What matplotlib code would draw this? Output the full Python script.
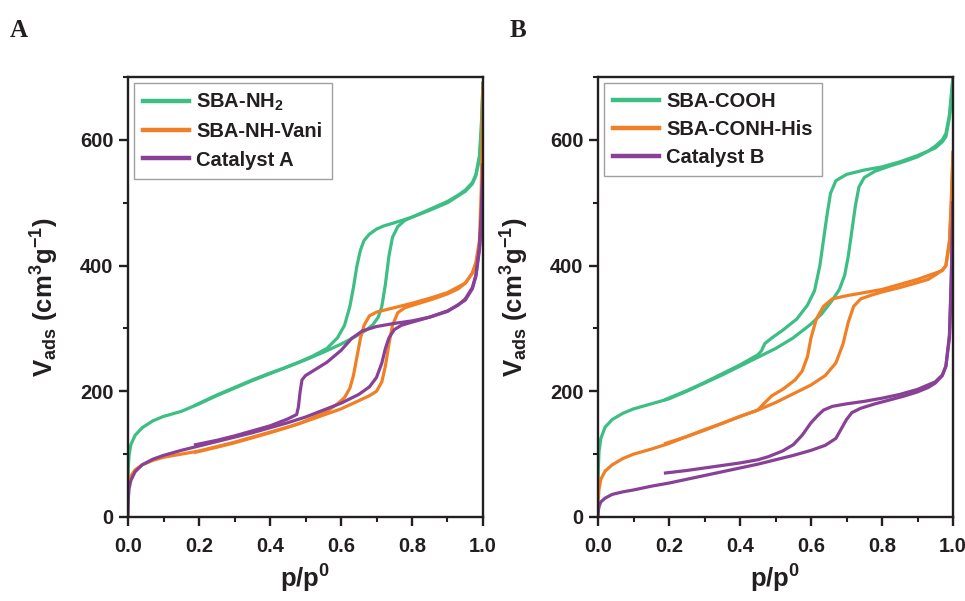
import matplotlib

matplotlib.use("Agg")
import matplotlib.pyplot as plt
from matplotlib.ticker import MultipleLocator, FormatStrFormatter

plt.rcParams["font.family"] = ["Liberation Sans", "DejaVu Sans"]
plt.rcParams["font.weight"] = "bold"
plt.rcParams["mathtext.fontset"] = "custom"
plt.rcParams["mathtext.rm"] = "Liberation Sans:bold"
plt.rcParams["mathtext.it"] = "Liberation Sans:bold"
plt.rcParams["mathtext.bf"] = "Liberation Sans:bold"
plt.rcParams["mathtext.default"] = "rm"

GREEN = "#3dbe84"
ORANGE = "#f07f26"
PURPLE = "#884197"
INK = "#231f20"

# ---- panel A ----
nh2_ads_p = [0, 0.001, 0.003, 0.008, 0.02, 0.04, 0.07, 0.1, 0.15, 0.2, 0.25, 0.3, 0.35, 0.4,
             0.45, 0.5, 0.55, 0.6, 0.64, 0.67, 0.69, 0.705, 0.715, 0.725, 0.735, 0.745, 0.76,
             0.78, 0.82, 0.86, 0.9, 0.93, 0.95, 0.97, 0.98, 0.99, 0.995, 1.0]
nh2_ads_v = [60, 80, 98, 115, 130, 142, 153, 160, 168, 180, 193, 205, 217, 228,
             239, 250, 262, 275, 287, 297, 306, 318, 335, 370, 415, 445, 462,
             472, 482, 492, 502, 512, 520, 532, 545, 575, 620, 690]
nh2_des_p = [1.0, 0.995, 0.99, 0.98, 0.97, 0.95, 0.9, 0.85, 0.8, 0.75, 0.72, 0.7, 0.68, 0.665,
             0.655, 0.645, 0.635, 0.625, 0.61, 0.59, 0.56, 0.52, 0.48, 0.44, 0.4, 0.35, 0.3,
             0.25, 0.19]
nh2_des_v = [690, 610, 570, 543, 530, 518, 500, 488, 477, 468, 463, 458, 450, 440,
             425, 400, 365, 335, 305, 285, 268, 256, 246, 237, 229, 218, 206,
             194, 178]

vani_ads_p = [0, 0.001, 0.003, 0.008, 0.02, 0.04, 0.07, 0.1, 0.15, 0.2, 0.25, 0.3, 0.35, 0.4,
              0.45, 0.5, 0.55, 0.6, 0.65, 0.68, 0.7, 0.715, 0.725, 0.735, 0.745, 0.76, 0.78,
              0.82, 0.86, 0.9, 0.93, 0.95, 0.97, 0.98, 0.99, 0.995, 1.0]
vani_ads_v = [30, 45, 55, 65, 75, 83, 90, 95, 100, 105, 112, 119, 127, 135,
              143, 152, 162, 172, 185, 193, 200, 215, 240, 275, 305, 325, 333,
              340, 347, 355, 363, 372, 388, 405, 440, 520, 690]
vani_des_p = [1.0, 0.995, 0.99, 0.98, 0.97, 0.95, 0.9, 0.85, 0.8, 0.75, 0.7, 0.68, 0.665, 0.655,
              0.645, 0.635, 0.625, 0.61, 0.59, 0.56, 0.52, 0.48, 0.44, 0.4, 0.35, 0.3, 0.25, 0.19]
vani_des_v = [550, 470, 430, 403, 388, 372, 357, 348, 340, 333, 326, 320, 305, 285,
              255, 225, 205, 190, 180, 168, 158, 148, 141, 134, 126, 118, 111, 103]

catA_ads_p = [0, 0.001, 0.003, 0.008, 0.02, 0.04, 0.07, 0.1, 0.15, 0.2, 0.25, 0.3, 0.35, 0.4,
              0.45, 0.5, 0.55, 0.6, 0.65, 0.68, 0.7, 0.715, 0.725, 0.735, 0.75, 0.77, 0.8,
              0.85, 0.9, 0.93, 0.95, 0.97, 0.98, 0.99, 0.995, 1.0]
catA_ads_v = [0, 30, 45, 58, 72, 83, 92, 98, 106, 113, 120, 127, 134, 142,
              150, 159, 170, 181, 195, 207, 222, 245, 268, 285, 298, 305, 310,
              318, 328, 337, 347, 365, 385, 430, 480, 560]
catA_des_p = [1.0, 0.995, 0.99, 0.98, 0.97, 0.95, 0.9, 0.85, 0.8, 0.75, 0.7, 0.66, 0.63, 0.6,
              0.56, 0.52, 0.5, 0.49, 0.485, 0.48, 0.475, 0.45, 0.4, 0.35, 0.3, 0.25, 0.19]
catA_des_v = [560, 470, 425, 383, 363, 345, 327, 318, 312, 308, 303, 296, 284, 265,
              246, 232, 225, 218, 200, 175, 163, 156, 145, 137, 129, 122, 115]

# ---- panel B ----
cooh_ads_p = [0, 0.001, 0.003, 0.008, 0.02, 0.04, 0.07, 0.1, 0.15, 0.2, 0.25, 0.3, 0.35, 0.4,
              0.45, 0.5, 0.55, 0.6, 0.63, 0.66, 0.68, 0.695, 0.705, 0.715, 0.725, 0.735, 0.75,
              0.78, 0.82, 0.86, 0.9, 0.93, 0.95, 0.97, 0.98, 0.99, 0.995, 1.0]
cooh_ads_v = [40, 80, 105, 125, 143, 155, 165, 172, 180, 188, 200, 213, 226, 240,
              254, 268, 285, 307, 323, 345, 362, 385, 415, 455, 495, 525, 540,
              550, 558, 565, 573, 582, 590, 600, 610, 640, 670, 700]
cooh_des_p = [1.0, 0.995, 0.99, 0.98, 0.97, 0.95, 0.9, 0.85, 0.8, 0.75, 0.7, 0.67, 0.655, 0.645,
              0.635, 0.625, 0.61, 0.59, 0.56, 0.52, 0.49, 0.47, 0.46, 0.45, 0.4, 0.35, 0.3,
              0.25, 0.19]
cooh_des_v = [700, 665, 635, 605, 597, 587, 575, 565, 557, 552, 545, 535, 515, 480,
              440, 400, 360, 337, 315, 297, 285, 276, 264, 258, 242, 228, 214,
              201, 187]

his_ads_p = [0, 0.001, 0.003, 0.008, 0.02, 0.04, 0.07, 0.1, 0.15, 0.2, 0.25, 0.3, 0.35, 0.4,
             0.45, 0.5, 0.55, 0.6, 0.64, 0.67, 0.69, 0.705, 0.72, 0.74, 0.77, 0.8, 0.85,
             0.9, 0.93, 0.95, 0.97, 0.98, 0.99, 0.995, 1.0]
his_ads_v = [10, 30, 45, 60, 73, 83, 93, 100, 108, 117, 128, 138, 149, 160,
             170, 182, 196, 210, 225, 245, 275, 310, 335, 347, 353, 358, 365,
             373, 378, 385, 393, 400, 440, 500, 580]
his_des_p = [1.0, 0.995, 0.99, 0.98, 0.97, 0.95, 0.9, 0.85, 0.8, 0.75, 0.7, 0.66, 0.635, 0.615,
             0.6, 0.59, 0.575, 0.555, 0.52, 0.49, 0.47, 0.45, 0.4, 0.35, 0.3, 0.25, 0.19]
his_des_v = [580, 495, 435, 400, 392, 388, 378, 370, 362, 357, 352, 347, 335, 315,
             285, 255, 232, 218, 203, 193, 182, 170, 160, 149, 139, 128, 117]

catB_ads_p = [0, 0.001, 0.003, 0.008, 0.02, 0.04, 0.07, 0.1, 0.15, 0.2, 0.25, 0.3, 0.35, 0.4,
              0.45, 0.5, 0.55, 0.6, 0.64, 0.67, 0.685, 0.7, 0.715, 0.74, 0.78, 0.82, 0.86,
              0.9, 0.93, 0.95, 0.97, 0.98, 0.99, 0.995, 1.0]
catB_ads_v = [0, 10, 17, 24, 30, 36, 40, 43, 49, 54, 60, 66, 72, 78,
              84, 91, 98, 106, 114, 125, 140, 155, 166, 173, 180, 186, 192,
              199, 206, 213, 225, 240, 290, 380, 500]
catB_des_p = [1.0, 0.995, 0.99, 0.98, 0.97, 0.95, 0.9, 0.85, 0.8, 0.75, 0.7, 0.66, 0.635, 0.62,
              0.6, 0.575, 0.55, 0.52, 0.48, 0.45, 0.4, 0.35, 0.3, 0.25, 0.19]
catB_des_v = [500, 370, 285, 240, 226, 215, 203, 195, 189, 184, 180, 176, 170, 162,
              150, 130, 115, 105, 96, 91, 86, 82, 78, 74, 70]

panel_a = [
    ("SBA-NH$_2$", GREEN, nh2_ads_p, nh2_ads_v, nh2_des_p, nh2_des_v),
    ("SBA-NH-Vani", ORANGE, vani_ads_p, vani_ads_v, vani_des_p, vani_des_v),
    ("Catalyst A", PURPLE, catA_ads_p, catA_ads_v, catA_des_p, catA_des_v),
]
panel_b = [
    ("SBA-COOH", GREEN, cooh_ads_p, cooh_ads_v, cooh_des_p, cooh_des_v),
    ("SBA-CONH-His", ORANGE, his_ads_p, his_ads_v, his_des_p, his_des_v),
    ("Catalyst B", PURPLE, catB_ads_p, catB_ads_v, catB_des_p, catB_des_v),
]

fig = plt.figure(figsize=(9.65, 6.01), dpi=100)
ax_a = fig.add_axes([128 / 965, 1 - 517 / 601, 355 / 965, 440 / 601])
ax_b = fig.add_axes([598 / 965, 1 - 517 / 601, 355 / 965, 440 / 601])

for ax, series, letter, lx in [(ax_a, panel_a, "A", 0.010), (ax_b, panel_b, "B", 0.528)]:
    for name, col, ap, av, dp, dv in series:
        ax.plot(ap, av, color=col, lw=2.3, label=name)
        ax.plot(dp, dv, color=col, lw=2.3)
    ax.set_xlim(0, 1.0)
    ax.set_ylim(0, 700)
    ax.xaxis.set_major_locator(MultipleLocator(0.2))
    ax.xaxis.set_minor_locator(MultipleLocator(0.1))
    ax.yaxis.set_major_locator(MultipleLocator(200))
    ax.yaxis.set_minor_locator(MultipleLocator(100))
    ax.xaxis.set_major_formatter(FormatStrFormatter("%.1f"))
    for s in ax.spines.values():
        s.set_linewidth(1.7)
        s.set_color(INK)
    ax.tick_params(which="major", length=6.5, width=1.7, labelsize=14.5, color=INK,
                   labelcolor=INK)
    ax.tick_params(axis="x", which="major", pad=8)
    ax.tick_params(axis="y", which="major", pad=4)
    ax.tick_params(which="minor", length=3.5, width=1.5, color=INK)
    ax.set_xlabel("p/p$^0$", fontsize=18.5, fontweight="bold", color=INK)
    ax.set_ylabel("V$_{ads}$ (cm$^3$g$^{-1}$)", fontsize=18.5, fontweight="bold", color=INK)
    ax.xaxis.set_label_coords(0.5, -0.105)
    ax.yaxis.set_label_coords(-0.19, 0.5)
    leg = ax.legend(loc="upper left", fontsize=14.5, frameon=True, fancybox=False,
                    handlelength=2.3, handletextpad=0.35, borderpad=0.45, labelspacing=0.45,
                    borderaxespad=0.3)
    leg.get_frame().set_edgecolor("#888888")
    leg.get_frame().set_linewidth(1.0)
    for h in leg.get_lines():
        h.set_linewidth(3.2)
    for t in leg.get_texts():
        t.set_color(INK)
    fig.text(lx, 0.95, letter, family="Liberation Serif", fontweight="bold", fontsize=18,
             color=INK, ha="left", va="center")

fig.savefig("out.png", dpi=100)
